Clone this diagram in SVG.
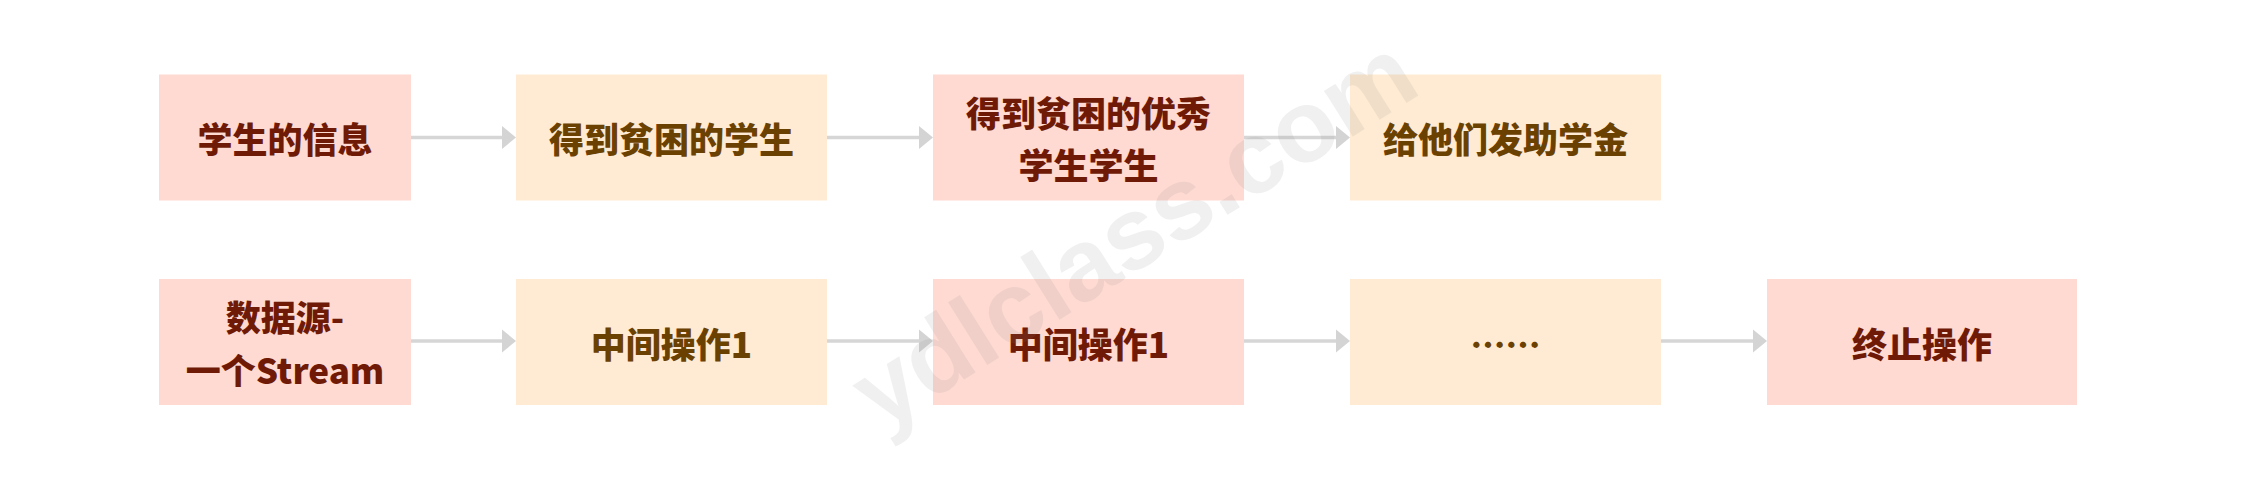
<svg xmlns="http://www.w3.org/2000/svg" width="2241" height="477" viewBox="0 0 2241 477">
  <defs>
    <style>
      .pink { fill: #FFDAD2; }
      .orange { fill: #FFEBD3; }
      .t { font-family: "Noto Sans CJK SC", "Noto Sans", sans-serif; font-weight: 900; font-size: 35px; text-anchor: middle; dominant-baseline: central; }
      .tr { fill: #6F1A06; }
      .tb { fill: #6B4102; }
      .line { stroke: #D6D6D6; stroke-width: 3.3; fill: none; }
      .head { fill: #D4D4D4; }
      .wm { font-family: "Liberation Sans", "DejaVu Sans", sans-serif; font-weight: 700; font-size: 102px; text-anchor: middle; fill: #888888; opacity: 0.12; }
    </style>
  </defs>
  <rect width="2241" height="477" fill="#FFFFFF"/>

  <g id="connectors">
    <line class="line" x1="411" y1="137.5" x2="503" y2="137.5"/>
    <polygon class="head" points="516,137.5 502,126 502,149"/>
    <line class="line" x1="827" y1="137.5" x2="920" y2="137.5"/>
    <polygon class="head" points="933,137.5 919,126 919,149"/>
    <line class="line" x1="1244" y1="137.5" x2="1337" y2="137.5"/>
    <polygon class="head" points="1350,137.5 1336,126 1336,149"/>

    <line class="line" x1="411" y1="341" x2="503" y2="341"/>
    <polygon class="head" points="516,341 502,329.5 502,352.5"/>
    <line class="line" x1="827" y1="341" x2="920" y2="341"/>
    <polygon class="head" points="933,341 919,329.5 919,352.5"/>
    <line class="line" x1="1244" y1="341" x2="1337" y2="341"/>
    <polygon class="head" points="1350,341 1336,329.5 1336,352.5"/>
    <line class="line" x1="1661" y1="341" x2="1754" y2="341"/>
    <polygon class="head" points="1767,341 1753,329.5 1753,352.5"/>
  </g>

  <g id="n1">
    <rect class="pink" x="159" y="74.5" width="252" height="126"/>
    <text class="t tr" x="285" y="137.5">学生的信息</text>
  </g>
  <g id="n2">
    <rect class="orange" x="516" y="74.5" width="311" height="126"/>
    <text class="t tb" x="671.5" y="137.5">得到贫困的学生</text>
  </g>
  <g id="n3">
    <rect class="pink" x="933" y="74.5" width="311" height="126"/>
    <text class="t tr" x="1088.5" y="111.5">得到贫困的优秀</text>
    <text class="t tr" x="1088.5" y="163.5">学生学生</text>
  </g>
  <g id="n4">
    <rect class="orange" x="1350" y="74.5" width="311" height="126"/>
    <text class="t tb" x="1505.5" y="137.5">给他们发助学金</text>
  </g>

  <g id="m1">
    <rect class="pink" x="159" y="279" width="252" height="126"/>
    <text class="t tr" x="285" y="315">数据源-</text>
    <text class="t tr" x="285" y="368">一个Stream</text>
  </g>
  <g id="m2">
    <rect class="orange" x="516" y="279" width="311" height="126"/>
    <text class="t tb" x="671.5" y="342">中间操作1</text>
  </g>
  <g id="m3">
    <rect class="pink" x="933" y="279" width="311" height="126"/>
    <text class="t tr" x="1088.5" y="342">中间操作1</text>
  </g>
  <g id="m4">
    <rect class="orange" x="1350" y="279" width="311" height="126"/>
    <text class="t tb" x="1505.5" y="342">……</text>
  </g>
  <g id="m5">
    <rect class="pink" x="1767" y="279" width="310" height="126"/>
    <text class="t tr" x="1922" y="342">终止操作</text>
  </g>

  <text class="wm" x="1152" y="262" transform="rotate(-32 1152 262)">ydlclass.com</text>
</svg>
